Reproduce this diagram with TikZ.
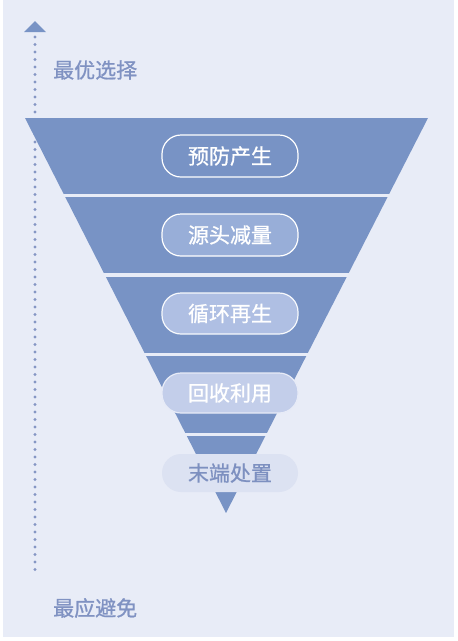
\documentclass[tikz,border=0pt]{standalone}
\usepackage{fontspec}
\newfontfamily\cjk{Noto Sans CJK SC}
\newfontfamily\cjkm[FakeBold=0.9]{Noto Sans CJK SC}
\definecolor{bgc}{HTML}{E8ECF7}
\definecolor{band}{HTML}{7893C5}
\definecolor{axis}{HTML}{8596C4}
\definecolor{lab}{HTML}{8092C2}
\definecolor{pfa}{HTML}{98AED8}
\definecolor{pfb}{HTML}{AFBFE3}
\definecolor{pfc}{HTML}{C3CEEA}
\definecolor{pfd}{HTML}{DCE2F2}
\definecolor{ptd}{HTML}{7D90C0}
\tikzset{
  pill/.style={rounded corners=19pt, minimum width=136pt, inner sep=0pt,
    font=\cjkm\fontsize{21}{21}\selectfont, text=white, line width=1.2pt},
  sidelab/.style={anchor=west, inner sep=0pt, font=\cjkm\fontsize{21}{21}\selectfont, text=lab}
}
\begin{document}
\begin{tikzpicture}[x=1pt,y=-1pt]
\useasboundingbox (0,0) rectangle (458,641);
\fill[white] (0,0) rectangle (458,641);
\fill[bgc] (3,0) rectangle (454,637);
% axis
\coordinate (atop) at (35,37);
\coordinate (abot) at (35,576);
\draw[axis, line width=3.2pt, line cap=round, dash pattern=on 0pt off 7.5pt] (atop) -- (abot);
\fill[band] (35,21) -- (46,32) -- (24,32) -- cycle;
% funnel
\begin{scope}
\clip (25,118) -- (428,118) -- (226,513) -- cycle;
\fill[band] (0,118) rectangle (458,193.5);
\fill[band] (0,197) rectangle (458,273);
\fill[band] (0,276.5) rectangle (458,352.5);
\fill[band] (0,356) rectangle (458,432.5);
\fill[band] (0,436) rectangle (458,513);
\end{scope}
% pills
\node[pill, draw=white, minimum height=42pt] (p1) at (230,156) {预防产生};
\node[pill, draw=white, fill=pfa, minimum height=42pt] (p2) at (230,235) {源头减量};
\node[pill, draw=white!90!pfb, fill=pfb, minimum height=41pt] (p3) at (230,313.5) {循环再生};
\node[pill, draw=white!60!pfc, fill=pfc, minimum height=40pt] (p4) at (230,393) {回收利用};
\node[pill, fill=pfd, text=ptd, minimum height=38pt] (p5) at (230,473) {末端处置};
% labels
\node[sidelab] (best) at (53,70) {最优选择};
\node[sidelab] (worst) at (53,608) {最应避免};
\end{tikzpicture}
\end{document}
